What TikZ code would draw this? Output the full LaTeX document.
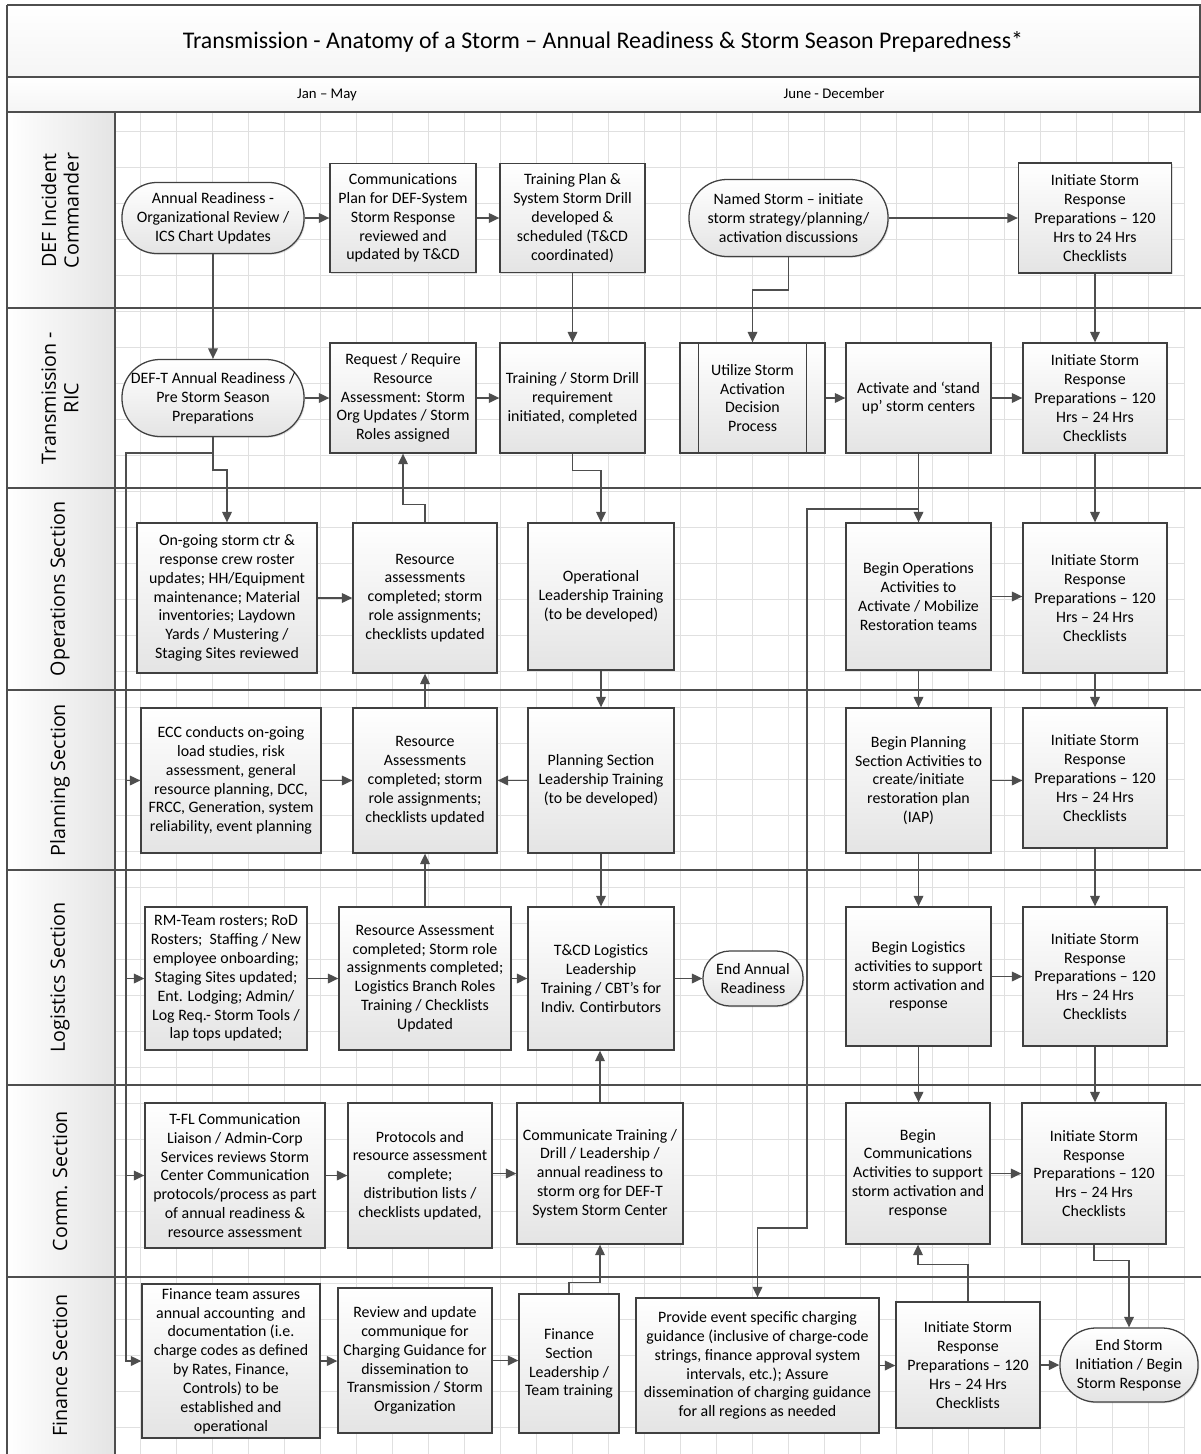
\documentclass[tikz,border=0pt]{standalone}
\usepackage{fontspec}
\setmainfont{Carlito}
\newfontfamily\lanefont{Open Sans}
\usetikzlibrary{arrows.meta, positioning, shadows, calc}

\definecolor{edgegray}{RGB}{64,64,64}
\definecolor{linegray}{RGB}{78,78,78}
\definecolor{gridgray}{RGB}{224,224,224}
\definecolor{fadegray}{RGB}{228,228,228}

\begin{document}
\begin{tikzpicture}[
  x=0.025cm, y=-0.025cm,
  font=\fontsize{11.3}{13.4}\selectfont,
  task/.style   ={draw=edgegray, line width=0.9pt, top color=white, bottom color=fadegray,
                  align=center, inner sep=1pt,
                  drop shadow={shadow xshift=0.9pt, shadow yshift=-0.9pt, opacity=0.25}},
  term/.style   ={task},
  arr/.style    ={-{Triangle[length=2.6mm, width=2.4mm]}, line width=1pt, draw=linegray},
  lanelbl/.style={font=\lanefont\fontsize{14}{16}\selectfont, align=center, inner sep=0pt},
  laneline/.style={draw=linegray, line width=1.3pt},
  gridline/.style={draw=gridgray, line width=0.5pt},
  period/.style ={font=\fontsize{10.5}{12}\selectfont, anchor=base},
]
\useasboundingbox (0,0) rectangle (1201,1454);

\fill[top color=white, bottom color=gray!8] (7,5) rectangle (1200,77);
\fill[top color=white, bottom color=gray!8] (7,77) rectangle (1200,112);
\foreach \gx in {140,176,...,1184} \draw[gridline] (\gx,113) -- (\gx,1454);
\foreach \gy in {131,167,...,1451} \draw[gridline] (115,\gy) -- (1184,\gy);

\foreach \ya/\yb/\lbl [count=\i] in {113/308/{DEF Incident\\Commander}, 308/488/{Transmission -\\RIC},
    488/690/{Operations Section}, 690/870/{Planning Section}, 870/1085/{Logistics Section},
    1085/1277/{Comm. Section}, 1277/1454/{Finance Section}}
{
  \fill[left color=white, right color=fadegray] (7,\ya) rectangle (115,\yb);
  \node[lanelbl, rotate=90] (lane\i) at (60,{(\ya+\yb)/2}) {\lbl};
}
\foreach \ly in {5,77,112,308,488,690,870,1085,1277} \draw[laneline] (7,\ly) -- (1201,\ly);
\draw[laneline] (7,5) -- (7,1454);
\draw[laneline] (1200,5) -- (1200,112);
\draw[laneline] (115,112) -- (115,1454);

\node[font=\fontsize{17}{20}\selectfont] (title) at (603,42)
  {Transmission - Anatomy of a Storm – Annual Readiness \& Storm Season Preparedness*};
\node[period] (jan) at (327,98) {Jan – May};
\node[period] (june) at (834,98) {June - December};

\node[term, rounded corners=0.87cm, minimum width=4.55cm, minimum height=1.775cm] (a1) at (213,218)
  {Annual Readiness -\\Organizational Review /\\ICS Chart Updates};
\node[task, minimum width=3.65cm, minimum height=2.725cm] (a2) at (403,218)
  {Communications\\Plan for DEF-System\\Storm Response\\reviewed and\\updated by T\&CD};
\node[task, minimum width=3.625cm, minimum height=2.725cm] (a3) at (572.5,218)
  {Training Plan \&\\System Storm Drill\\developed \&\\scheduled (T\&CD\\coordinated)};
\node[term, rounded corners=0.95cm, minimum width=4.975cm, minimum height=1.925cm] (a4) at (788.5,218)
  {Named Storm – initiate\\storm strategy/planning/\\activation discussions};
\node[task, minimum width=3.825cm, minimum height=2.75cm] (a5) at (1095,218)
  {Initiate Storm\\Response\\Preparations – 120\\Hrs to 24 Hrs\\Checklists};

\node[term, rounded corners=0.95cm, minimum width=4.55cm, minimum height=1.925cm] (b1) at (213,398)
  {DEF-T Annual Readiness /\\Pre Storm Season\\Preparations};
\node[task, minimum width=3.65cm, minimum height=2.75cm] (b2) at (403,398)
  {Request / Require\\Resource\\Assessment: Storm\\Org Updates / Storm\\Roles assigned};
\node[task, minimum width=3.625cm, minimum height=2.75cm] (b3) at (572.5,398)
  {Training / Storm Drill\\requirement\\initiated, completed};
\node[task, minimum width=3.625cm, minimum height=2.75cm] (b4) at (752.5,398)
  {Utilize Storm\\Activation\\Decision\\Process};
\draw[draw=edgegray, line width=0.9pt] ([xshift=0.475cm]b4.north west) -- ([xshift=0.475cm]b4.south west);
\draw[draw=edgegray, line width=0.9pt] ([xshift=-0.475cm]b4.north east) -- ([xshift=-0.475cm]b4.south east);
\node[task, minimum width=3.625cm, minimum height=2.75cm] (b5) at (918.5,398)
  {Activate and `stand\\up' storm centers};
\node[task, minimum width=3.6cm, minimum height=2.75cm] (b6) at (1095,398)
  {Initiate Storm\\Response\\Preparations – 120\\Hrs – 24 Hrs\\Checklists};

\node[task, minimum width=4.5cm, minimum height=3.75cm] (c1) at (227,598)
  {On-going storm ctr \&\\response crew roster\\updates; HH/Equipment\\maintenance; Material\\inventories; Laydown\\Yards / Mustering /\\Staging Sites reviewed};
\node[task, minimum width=3.6cm, minimum height=3.75cm] (c2) at (425,598)
  {Resource\\assessments\\completed; storm\\role assignments;\\checklists updated};
\node[task, minimum width=3.65cm, minimum height=3.675cm] (c3) at (601,596.5)
  {Operational\\Leadership Training\\(to be developed)};
\node[task, minimum width=3.625cm, minimum height=3.675cm] (c4) at (918.5,596.5)
  {Begin Operations\\Activities to\\Activate / Mobilize\\Restoration teams};
\node[task, minimum width=3.6cm, minimum height=3.75cm] (c5) at (1095,598)
  {Initiate Storm\\Response\\Preparations – 120\\Hrs – 24 Hrs\\Checklists};

\node[task, minimum width=4.5cm, minimum height=3.625cm] (d1) at (231,780.5)
  {ECC conducts on-going\\load studies, risk\\assessment, general\\resource planning, DCC,\\FRCC, Generation, system\\reliability, event planning};
\node[task, minimum width=3.6cm, minimum height=3.625cm] (d2) at (425,780.5)
  {Resource\\Assessments\\completed; storm\\role assignments;\\checklists updated};
\node[task, minimum width=3.65cm, minimum height=3.625cm] (d3) at (601,780.5)
  {Planning Section\\Leadership Training\\(to be developed)};
\node[task, minimum width=3.625cm, minimum height=3.625cm] (d4) at (918.5,780.5)
  {Begin Planning\\Section Activities to\\create/initiate\\restoration plan\\(IAP)};
\node[task, minimum width=3.6cm, minimum height=3.5cm] (d5) at (1095,778)
  {Initiate Storm\\Response\\Preparations – 120\\Hrs – 24 Hrs\\Checklists};

\node[task, minimum width=4.05cm, minimum height=3.575cm] (e1) at (226,978.5)
  {RM-Team rosters; RoD\\Rosters;\ \ Staffing / New\\employee onboarding;\\Staging Sites updated;\\Ent. Lodging; Admin/\\Log Req.- Storm Tools /\\lap tops updated;};
\node[task, minimum width=4.3cm, minimum height=3.575cm] (e2) at (425,978.5)
  {Resource Assessment\\completed; Storm role\\assignments completed;\\Logistics Branch Roles\\Training / Checklists\\Updated};
\node[task, minimum width=3.65cm, minimum height=3.575cm] (e3) at (601,978.5)
  {T\&CD Logistics\\Leadership\\Training / CBT's for\\Indiv. Contirbutors};
\node[term, rounded corners=0.67cm, minimum width=2.5cm, minimum height=1.375cm] (e4) at (753,978.5)
  {End Annual\\Readiness};
\node[task, minimum width=3.625cm, minimum height=3.475cm] (e5) at (918.5,976.5)
  {Begin Logistics\\activities to support\\storm activation and\\response};
\node[task, minimum width=3.6cm, minimum height=3.475cm] (e6) at (1095,976.5)
  {Initiate Storm\\Response\\Preparations – 120\\Hrs – 24 Hrs\\Checklists};

\node[task, minimum width=4.5cm, minimum height=3.625cm] (g1) at (235,1175.5)
  {T-FL Communication\\Liaison / Admin-Corp\\Services reviews Storm\\Center Communication\\protocols/process as part\\of annual readiness \&\\resource assessment};
\node[task, minimum width=3.6cm, minimum height=3.625cm] (g2) at (420,1175.5)
  {Protocols and\\resource assessment\\complete;\\distribution lists /\\checklists updated,};
\node[task, minimum width=4.15cm, minimum height=3.525cm] (g3) at (600,1173.5)
  {Communicate Training /\\Drill / Leadership /\\annual readiness to\\storm org for DEF-T\\System Storm Center};
\node[task, minimum width=3.6cm, minimum height=3.525cm] (g4) at (918,1173.5)
  {Begin\\Communications\\Activities to support\\storm activation and\\response};
\node[task, minimum width=3.6cm, minimum height=3.525cm] (g5) at (1094,1173.5)
  {Initiate Storm\\Response\\Preparations – 120\\Hrs – 24 Hrs\\Checklists};

\node[task, minimum width=4.45cm, minimum height=3.85cm] (f1) at (231,1361)
  {Finance team assures\\annual accounting\ \ and\\documentation (i.e.\\charge codes as defined\\by Rates, Finance,\\Controls) to be\\established and\\operational};
\node[task, minimum width=3.85cm, minimum height=3.625cm] (f2) at (415,1360.5)
  {Review and update\\communique for\\Charging Guidance for\\dissemination to\\Transmission / Storm\\Organization};
\node[task, minimum width=2.5cm, minimum height=3.475cm] (f3) at (569,1363.5)
  {Finance\\Section\\Leadership /\\Team training};
\node[task, minimum width=6.075cm, minimum height=3.375cm] (f4) at (757.5,1365.5)
  {Provide event specific charging\\guidance (inclusive of charge-code\\strings, finance approval system\\intervals, etc.); Assure\\dissemination of charging guidance\\for all regions as needed};
\node[task, minimum width=3.6cm, minimum height=3.15cm] (f5) at (968,1365)
  {Initiate Storm\\Response\\Preparations – 120\\Hrs – 24 Hrs\\Checklists};
\node[term, rounded corners=0.9cm, minimum width=3.45cm, minimum height=1.85cm] (f6) at (1129,1365)
  {End Storm\\Initiation / Begin\\Storm Response};

\coordinate (spine) at (126,453);
\coordinate (jogtop) at (807,509);
\coordinate (jogbot) at (807,1228);

\draw[arr] (a1) -- (a2);
\draw[arr] (a2) -- (a3);
\draw[arr] (a4) -- (a5);
\draw[arr] (a1) -- (b1);
\draw[arr] (a3) -- (b3);
\draw[arr] (a4.south) -- ++(0,33) -| (b4.north);
\draw[arr] (a5) -- (b6);
\draw[arr] (b1) -- (b2);
\draw[arr] (b2) -- (b3);
\draw[arr] (b4) -- (b5);
\draw[arr] (b5) -- (b6);
\draw[arr] (b1.south) -- (b1.south |- spine) -- (spine) |- (f1.west);
\foreach \t in {d1,e1,g1} \draw[arr] (spine) |- (\t.west);
\draw[arr] (b1.south) -- ++(0,33) -| (c1.north);
\draw[arr] (c2.north) -- ++(0,-18) -| (b2.south);
\draw[arr] (b3.south) -- ++(0,17) -| (c3.north);
\draw[arr] (b5) -- (c4);
\draw[arr] (b5.south) |- (jogtop) -- (jogbot) -| (f4.north);
\draw[arr] (b6) -- (c5);
\draw[arr] (c1) -- (c2);
\draw[arr] (c4.east) -- (c4.east -| c5.west);
\draw[arr] (d2) -- (c2);
\draw[arr] (c3) -- (d3);
\draw[arr] (c4) -- (d4);
\draw[arr] (c5) -- (d5);
\draw[arr] (d1) -- (d2);
\draw[arr] (d3) -- (d2);
\draw[arr] (d4.east) -- (d4.east -| d5.west);
\draw[arr] (e2) -- (d2);
\draw[arr] (d3) -- (e3);
\draw[arr] (d4) -- (e5);
\draw[arr] (d5) -- (e6);
\draw[arr] (e1) -- (e2);
\draw[arr] (e2) -- (e3);
\draw[arr] (e3) -- (e4);
\draw[arr] (e5) -- (e6);
\draw[arr] (g3.north) -- (g3.north |- e3.south);
\draw[arr] (e5.south) -- (e5.south |- g4.north);
\draw[arr] (e6.south) -- (e6.south |- g5.north);
\draw[arr] (g1) -- (g2);
\draw[arr] (g2.east |- g3.west) -- (g3.west);
\draw[arr] (g4) -- (g5);
\draw[arr] (f1.east) -- (f1.east -| f2.west);
\draw[arr] (f2.east) -- (f2.east -| f3.west);
\draw[arr] (f3.north) -- ++(0,-11) -| (g3.south);
\draw[arr] (f4.east) -- (f4.east -| f5.west);
\draw[arr] (f5) -- (f6);
\draw[arr] (f5.north) -- ++(0,-37) -| (g4.south);
\draw[arr] (g5.south) -- ++(0,16) -| (f6.north);
\end{tikzpicture}
\end{document}
